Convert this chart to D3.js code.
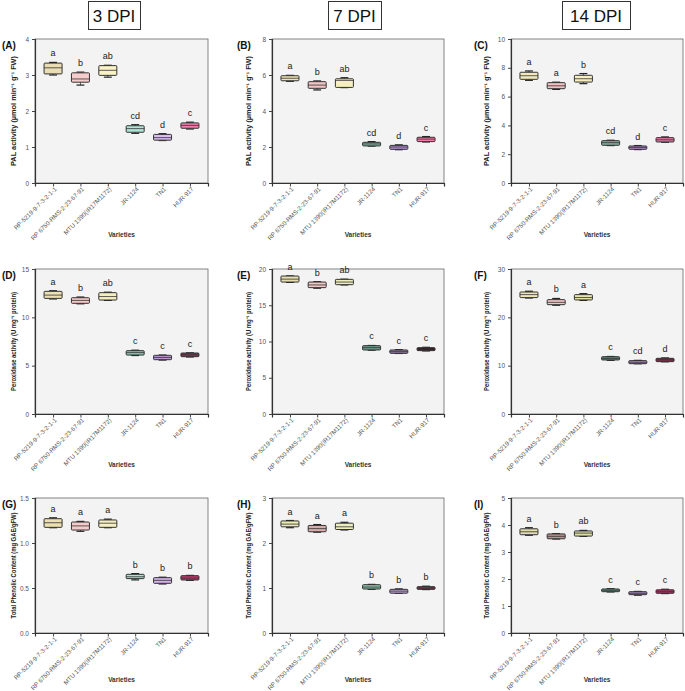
<!DOCTYPE html>
<html lang="en">
<head>
<meta charset="UTF-8">
<title>PAL, peroxidase and phenolics by variety</title>
<script src="https://d3js.org/d3.v7.min.js"></script>
<style>
    body { margin: 0; background: #fff; }
    svg text { font-family: Arial, "Liberation Sans", sans-serif; }
</style>
</head>
<body>
<div id="chart"></div>
<script>
// categories
const varieties = ["RP-5219-9-7-3-2-1-1", "RP 6750-RMS-2-23-67-91", "MTU 1390(IR17M1172)", "JR-1124", "TN1", "HUR-917"];
const dpiLabels = ["3 DPI", "7 DPI", "14 DPI"];
const panelTags = ["(A)", "(B)", "(C)", "(D)", "(E)", "(F)", "(G)", "(H)", "(I)"];
const yTitles = ["PAL activity (\u00b5mol min\u207b\u00b9 g\u207b\u00b9 FW)", "Peroxidase activity (U mg\u207b\u00b9 protein)", "Total Phenolic Content (mg GAE/gFW)"];

// box values: [min, q1, median, q3, max] per variety
const palDpi3 = [[3.00, 3.03, 3.20, 3.33, 3.35], [2.72, 2.80, 2.89, 3.06, 3.08], [2.94, 2.99, 3.13, 3.26, 3.27], [1.38, 1.41, 1.51, 1.59, 1.62], [1.18, 1.19, 1.26, 1.35, 1.37], [1.50, 1.52, 1.60, 1.67, 1.69]];
const palDpi7 = [[5.65, 5.68, 5.82, 5.96, 5.98], [5.17, 5.26, 5.44, 5.63, 5.67], [5.30, 5.31, 5.70, 5.79, 5.85], [2.05, 2.06, 2.17, 2.26, 2.30], [1.85, 1.87, 2.00, 2.09, 2.12], [2.28, 2.30, 2.44, 2.54, 2.58]];
const palDpi14 = [[7.13, 7.20, 7.45, 7.69, 7.78], [6.50, 6.55, 6.75, 6.97, 7.00], [6.90, 7.01, 7.24, 7.48, 7.60], [2.60, 2.62, 2.80, 2.94, 2.97], [2.32, 2.34, 2.47, 2.57, 2.60], [2.83, 2.85, 3.00, 3.15, 3.20]];
const podDpi3 = [[11.90, 11.96, 12.30, 12.69, 12.75], [11.40, 11.45, 11.75, 12.03, 12.10], [11.75, 11.79, 12.15, 12.55, 12.60], [6.05, 6.10, 6.35, 6.55, 6.60], [5.58, 5.62, 5.85, 6.07, 6.10], [5.90, 5.93, 6.12, 6.31, 6.33]];
const podDpi7 = [[18.15, 18.20, 18.60, 19.03, 19.05], [17.35, 17.43, 17.80, 18.20, 18.25], [17.80, 17.84, 18.20, 18.57, 18.60], [8.80, 8.83, 9.15, 9.43, 9.45], [8.35, 8.37, 8.60, 8.83, 8.88], [8.70, 8.74, 8.95, 9.15, 9.20]];
const podDpi14 = [[24.00, 24.08, 24.70, 25.24, 25.40], [22.50, 22.62, 23.10, 23.66, 23.90], [23.50, 23.60, 24.10, 24.70, 24.90], [11.10, 11.18, 11.50, 11.86, 11.90], [10.40, 10.41, 10.70, 11.04, 11.10], [10.80, 10.83, 11.20, 11.52, 11.60]];
const tpcDpi3 = [[1.17, 1.174, 1.225, 1.27, 1.28], [1.13, 1.144, 1.19, 1.233, 1.24], [1.17, 1.174, 1.22, 1.256, 1.265], [0.59, 0.604, 0.625, 0.652, 0.66], [0.545, 0.552, 0.585, 0.615, 0.62], [0.585, 0.589, 0.61, 0.637, 0.64]];
const tpcDpi7 = [[2.34, 2.36, 2.42, 2.49, 2.50], [2.24, 2.25, 2.32, 2.39, 2.41], [2.29, 2.30, 2.36, 2.44, 2.46], [0.97, 0.978, 1.02, 1.074, 1.08], [0.88, 0.885, 0.93, 0.97, 0.98], [0.965, 0.97, 0.995, 1.03, 1.04]];
const tpcDpi14 = [[3.62, 3.64, 3.75, 3.86, 3.90], [3.48, 3.49, 3.58, 3.67, 3.68], [3.58, 3.59, 3.70, 3.78, 3.80], [1.52, 1.53, 1.58, 1.63, 1.64], [1.40, 1.42, 1.47, 1.53, 1.54], [1.46, 1.47, 1.53, 1.60, 1.62]];

// significance letters
const lettersA = ["a", "b", "ab", "cd", "d", "c"];
const lettersB = ["a", "b", "ab", "cd", "d", "c"];
const lettersC = ["a", "a", "b", "cd", "d", "c"];
const lettersD = ["a", "b", "ab", "c", "c", "c"];
const lettersE = ["a", "b", "ab", "c", "c", "c"];
const lettersF = ["a", "b", "a", "c", "cd", "d"];
const lettersG = ["a", "a", "a", "b", "b", "b"];
const lettersH = ["a", "a", "a", "b", "b", "b"];
const lettersI = ["a", "b", "ab", "c", "c", "c"];

// y axis domains and ticks
const yMax = [4, 8, 10, 15, 20, 30, 1.5, 3, 5];
const yTicks = [
    [0, 1, 2, 3, 4], [0, 2, 4, 6, 8], [0, 2, 4, 6, 8, 10],
    [0, 5, 10, 15], [0, 5, 10, 15, 20], [0, 10, 20, 30],
    [0, 0.5, 1.0, 1.5], [0, 1, 2, 3], [0, 1, 2, 3, 4, 5]
];

// fill colours, one list per panel
const colorsA = ["#e9ddb3", "#f7cccc", "#f8f2c6", "#b0e6d6", "#dcbdf0", "#ee7fae"];
const colorsB = ["#efe3b6", "#f1c4c4", "#f7efc0", "#86b5a3", "#b892cc", "#f07aa8"];
const colorsC = ["#f1e9bc", "#f0c2c2", "#f7efc0", "#80ad9b", "#b28ac6", "#e879a8"];
const colorsD = ["#ece0b4", "#f5c8c8", "#f4eec0", "#8cc6b0", "#bb98d0", "#8b2f55"];
const colorsE = ["#e6deb0", "#f0c6c6", "#eeeec2", "#6f9c8c", "#9a7cb0", "#3a1a26"];
const colorsF = ["#efe6b8", "#f1c6c6", "#e8e2b0", "#5e8e7c", "#b68ac8", "#8a2a50"];
const colorsG = ["#ecdfb2", "#f6caca", "#f6efc4", "#ace2ce", "#d4b2e8", "#b8386a"];
const colorsH = ["#ecebba", "#d9abab", "#eeeec2", "#8cc2aa", "#c3a4da", "#8a3050"];
const colorsI = ["#e2dcb0", "#bb9292", "#dcdcac", "#62a086", "#ac8cc4", "#a83466"];

const panelData = [palDpi3, palDpi7, palDpi14, podDpi3, podDpi7, podDpi14, tpcDpi3, tpcDpi7, tpcDpi14];
const panelLetters = [lettersA, lettersB, lettersC, lettersD, lettersE, lettersF, lettersG, lettersH, lettersI];
const panelColors = [colorsA, colorsB, colorsC, colorsD, colorsE, colorsF, colorsG, colorsH, colorsI];

const width = 685, height = 691;
const colLeft = [35, 272, 511], colRight = [208, 444, 683];
const rowTop = [39, 269, 498], rowBottom = [183, 414, 633];
const yTitleX = [15.5, 251, 489];
const yTitleLen = [110, 99, 106];
const tagX = [2, 237, 474];
const variedY = [236.5, 466.5, 681.5];
const headerBox = [[88, 140], [328, 381], [562, 630]];

const svg = d3.select("#chart").append("svg")
    .attr("width", width)
    .attr("height", height);

// DPI headers
dpiLabels.forEach((lab, i) => {
    const [x0, x1] = headerBox[i];
    svg.append("rect")
        .attr("x", x0 + 0.5).attr("y", 1.5)
        .attr("width", x1 - x0).attr("height", 28)
        .attr("fill", "#fff").attr("stroke", "#333").attr("stroke-width", 1);
    svg.append("text")
        .attr("x", (x0 + x1) / 2).attr("y", 22)
        .attr("text-anchor", "middle")
        .attr("font-size", 17)
        .attr("fill", "#111")
        .text(lab);
});

panelData.forEach((data, p) => {
    const col = p % 3, row = Math.floor(p / 3);
    const L = colLeft[col], R = colRight[col], T = rowTop[row], B = rowBottom[row];

    const x = d3.scalePoint().domain(varieties).range([L, R]).padding(0.66);
    const y = d3.scaleLinear().domain([0, yMax[p]]).range([B, T]);
    const bw = 18;

    const g = svg.append("g");

    g.append("rect")
        .attr("x", L).attr("y", T)
        .attr("width", R - L).attr("height", B - T)
        .attr("fill", "#f3f3f3")
        .attr("stroke", "#666").attr("stroke-width", 0.8);

    const fmt = p === 6 ? d3.format(".1f") : d3.format("d");

    const yAxis = g.append("g")
        .attr("transform", `translate(${L},0)`)
        .call(d3.axisLeft(y).tickValues(yTicks[p]).tickSize(3).tickFormat(fmt));
    const xAxis = g.append("g")
        .attr("transform", `translate(0,${B})`)
        .call(d3.axisBottom(x).tickSize(3.5).tickFormat(""));

    [yAxis, xAxis].forEach(a => {
        a.select(".domain").attr("stroke", "#333").attr("stroke-width", 1.2);
        a.selectAll(".tick line").attr("stroke", "#444");
        a.selectAll("text").attr("font-size", 6.5).attr("fill", "#555")
            .attr("font-family", "Arial, 'Liberation Sans', sans-serif");
    });

    // rotated category labels
    g.selectAll(".xlab")
        .data(varieties)
        .enter().append("text")
        .attr("class", "xlab")
        .attr("transform", d => `translate(${x(d) + 4},${B + 6.5}) rotate(-45)`)
        .attr("text-anchor", "end")
        .attr("font-size", 6.2)
        .attr("fill", "#555")
        .text(d => d);

    g.append("text")
        .attr("x", (L + R) / 2).attr("y", variedY[row])
        .attr("text-anchor", "middle")
        .attr("font-size", 6.5)
        .attr("font-weight", "bold")
        .attr("fill", "#333")
        .text("Varieties");

    g.append("text")
        .attr("transform", `translate(${yTitleX[col]},${(T + B) / 2}) rotate(-90)`)
        .attr("text-anchor", "middle")
        .attr("font-size", 6.6)
        .attr("font-weight", "bold")
        .attr("fill", "#222")
        .attr("textLength", yTitleLen[row])
        .attr("lengthAdjust", "spacingAndGlyphs")
        .text(yTitles[row]);

    g.append("text")
        .attr("x", tagX[col]).attr("y", T + 10)
        .attr("font-size", 10)
        .attr("font-weight", "bold")
        .attr("fill", "#111")
        .text(panelTags[p]);

    // box plots
    const boxes = g.selectAll(".box")
        .data(data)
        .enter().append("g")
        .attr("class", "box")
        .attr("transform", (d, i) => `translate(${x(varieties[i])},0)`);

    boxes.append("line")
        .attr("x1", 0).attr("x2", 0)
        .attr("y1", d => y(d[0])).attr("y2", d => y(d[4]))
        .attr("stroke", "#333").attr("stroke-width", 0.8);
    boxes.selectAll(".cap")
        .data(d => [d[0], d[4]])
        .enter().append("line")
        .attr("x1", -bw * 0.22).attr("x2", bw * 0.22)
        .attr("y1", v => y(v)).attr("y2", v => y(v))
        .attr("stroke", "#222").attr("stroke-width", 1.2);
    boxes.append("rect")
        .attr("x", -bw / 2)
        .attr("y", d => y(d[3]))
        .attr("width", bw)
        .attr("height", d => Math.max(1.5, y(d[1]) - y(d[3])))
        .attr("rx", 0.8)
        .attr("fill", (d, i) => panelColors[p][i])
        .attr("stroke", "#333").attr("stroke-width", 1);
    boxes.append("line")
        .attr("x1", -bw / 2).attr("x2", bw / 2)
        .attr("y1", d => y(d[2])).attr("y2", d => y(d[2]))
        .attr("stroke", "#333").attr("stroke-width", 0.8);

    boxes.append("text")
        .attr("x", 0)
        .attr("y", d => y(d[4]) - 6)
        .attr("text-anchor", "middle")
        .attr("font-size", 9)
        .attr("fill", "#222")
        .text((d, i) => panelLetters[p][i]);
});
</script>
</body>
</html>
